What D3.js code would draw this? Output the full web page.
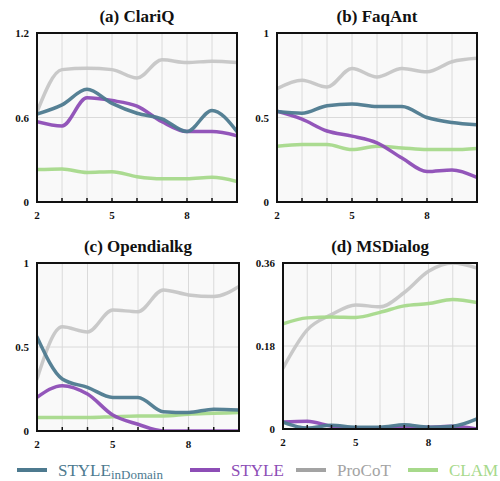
<!DOCTYPE html>
<html lang="en">
<head>
    <meta charset="UTF-8">
    <script src="https://cdn.jsdelivr.net/npm/d3@7"></script>
    <style>
        body { margin: 0; background: #fff; }
        .tick-label { font-size: 11px; font-weight: bold; fill: #111; }
        .panel-title { font-size: 17px; font-weight: bold; fill: #111; }
        .legend-label { font-size: 17px; }
    </style>
</head>
<body>
    <div id="chart"></div>
    <script>
        const serif = "'Liberation Serif', 'DejaVu Serif', 'Times New Roman', serif";

        const xs = [2, 3, 4, 5, 6, 7, 8, 9, 10];
        const xTicks = [2, 5, 8];
        const seriesNames = ["STYLE_inDomain", "STYLE", "ProCoT", "CLAM"];
        const seriesColors = ["#4d7a8f", "#8d4db6", "#c6c6c6", "#a7d98b"];
        const legendColors = ["#4d7a8f", "#8d4db6", "#a3a3a3", "#a7d98b"];

        const titles = ["(a) ClariQ", "(b) FaqAnt", "(c) Opendialkg", "(d) MSDialog"];
        const yMax = [1.2, 1, 1, 0.36];
        const yTicks = [[0, 0.6, 1.2], [0, 0.5, 1], [0, 0.5, 1], [0, 0.18, 0.36]];

        const clariq = [
            [0.625, 0.69, 0.80, 0.70, 0.63, 0.59, 0.50, 0.65, 0.50],
            [0.57, 0.54, 0.74, 0.72, 0.68, 0.57, 0.50, 0.50, 0.47],
            [0.64, 0.94, 0.95, 0.94, 0.88, 1.01, 0.99, 1.00, 0.99],
            [0.23, 0.235, 0.21, 0.215, 0.18, 0.165, 0.165, 0.175, 0.145]
        ];
        const faqant = [
            [0.535, 0.525, 0.57, 0.58, 0.565, 0.565, 0.50, 0.47, 0.457],
            [0.537, 0.49, 0.42, 0.39, 0.35, 0.26, 0.18, 0.19, 0.145],
            [0.67, 0.72, 0.68, 0.79, 0.74, 0.79, 0.77, 0.83, 0.85],
            [0.33, 0.34, 0.34, 0.31, 0.33, 0.32, 0.31, 0.31, 0.317]
        ];
        const opendialkg = [
            [0.56, 0.31, 0.26, 0.20, 0.20, 0.115, 0.11, 0.13, 0.125],
            [0.20, 0.27, 0.22, 0.095, 0.04, 0.0, 0.0, 0.0, 0.0],
            [0.31, 0.62, 0.59, 0.72, 0.71, 0.84, 0.81, 0.80, 0.86],
            [0.08, 0.08, 0.08, 0.085, 0.09, 0.09, 0.10, 0.105, 0.11]
        ];
        const msdialog = [
            [0.015, 0.002, 0.008, 0.004, 0.004, 0.009, 0.004, 0.006, 0.022],
            [0.015, 0.017, 0.006, 0.002, 0.002, 0.004, 0.004, 0.006, 0.0],
            [0.132, 0.215, 0.248, 0.269, 0.265, 0.296, 0.342, 0.36, 0.349],
            [0.228, 0.241, 0.243, 0.242, 0.253, 0.267, 0.272, 0.281, 0.274]
        ];
        const panelData = [clariq, faqant, opendialkg, msdialog];

        // plot boxes [left, top, right, bottom]
        const boxes = [
            [37, 33, 237, 202],
            [277, 33, 477, 202],
            [37, 263, 239, 431],
            [283, 263, 477, 429]
        ];

        const svg = d3.select("#chart").append("svg").attr("width", 500).attr("height", 481);
        const defs = svg.append("defs");

        boxes.forEach((b, i) => {
            const [l, t, r, btm] = b;
            const x = d3.scaleLinear().domain([2, 10]).range([l, r]);
            const y = d3.scaleLinear().domain([0, yMax[i]]).range([btm, t]);
            const g = svg.append("g");

            g.append("rect").attr("x", l).attr("y", t).attr("width", r - l).attr("height", btm - t).attr("fill", "#f9f9f9");

            // grid
            g.selectAll(".vgrid").data(xs.slice(1, -1)).enter().append("line")
                .attr("x1", d => x(d)).attr("x2", d => x(d)).attr("y1", t).attr("y2", btm)
                .attr("stroke", "#dadada").attr("stroke-width", 1);
            g.selectAll(".hgrid").data(yTicks[i].slice(1, -1)).enter().append("line")
                .attr("x1", l).attr("x2", r).attr("y1", d => y(d)).attr("y2", d => y(d))
                .attr("stroke", "#dadada").attr("stroke-width", 1);

            defs.append("clipPath").attr("id", "clip" + i).append("rect")
                .attr("x", l).attr("y", t).attr("width", r - l).attr("height", btm - t);

            const line = d3.line().x((d, j) => x(xs[j])).y(d => y(d)).curve(d3.curveMonotoneX);
            const lines = g.append("g").attr("clip-path", `url(#clip${i})`);
            // draw order: ProCoT, CLAM, STYLE, STYLE_inDomain
            [2, 3, 1, 0].forEach(s => {
                lines.append("path").datum(panelData[i][s])
                    .attr("d", line).attr("fill", "none")
                    .attr("stroke", seriesColors[s]).attr("stroke-width", 3.5)
                    .attr("stroke-opacity", 0.95).attr("stroke-linecap", "round");
            });

            // frame
            g.append("rect").attr("x", l).attr("y", t).attr("width", r - l).attr("height", btm - t)
                .attr("fill", "none").attr("stroke", "#111").attr("stroke-width", 2);

            // x tick marks
            g.selectAll(".xt").data(xs.slice(1, -1)).enter().append("line")
                .attr("x1", d => x(d)).attr("x2", d => x(d)).attr("y1", btm - 4).attr("y2", btm)
                .attr("stroke", "#111").attr("stroke-width", 1.5);

            g.selectAll(".xl").data(xTicks).enter().append("text").attr("class", "tick-label")
                .style("font-family", serif)
                .attr("x", d => x(d)).attr("y", btm + 17).attr("text-anchor", "middle").text(d => d);
            g.selectAll(".yl").data(yTicks[i]).enter().append("text").attr("class", "tick-label")
                .style("font-family", serif)
                .attr("x", l - 8).attr("y", d => y(d) + 4).attr("text-anchor", "end").text(d => d);

            g.append("text").attr("class", "panel-title").style("font-family", serif)
                .attr("x", (l + r) / 2).attr("y", t - 11)
                .attr("text-anchor", "middle").text(titles[i]);
        });

        // legend
        const legendX = [17, 190, 296, 408];
        const legend = svg.append("g");
        seriesNames.forEach((name, i) => {
            legend.append("line").attr("x1", legendX[i]).attr("x2", legendX[i] + 30)
                .attr("y1", 470).attr("y2", 470).attr("stroke", legendColors[i]).attr("stroke-width", 4);
            const txt = legend.append("text").attr("class", "legend-label").style("font-family", serif)
                .attr("x", legendX[i] + 41).attr("y", 476).attr("fill", legendColors[i]);
            if (name.includes("_")) {
                const parts = name.split("_");
                txt.append("tspan").text(parts[0]);
                txt.append("tspan").attr("dy", 3).style("font-size", "13px").text(parts[1]);
            } else {
                txt.text(name);
            }
        });
    </script>
</body>
</html>
